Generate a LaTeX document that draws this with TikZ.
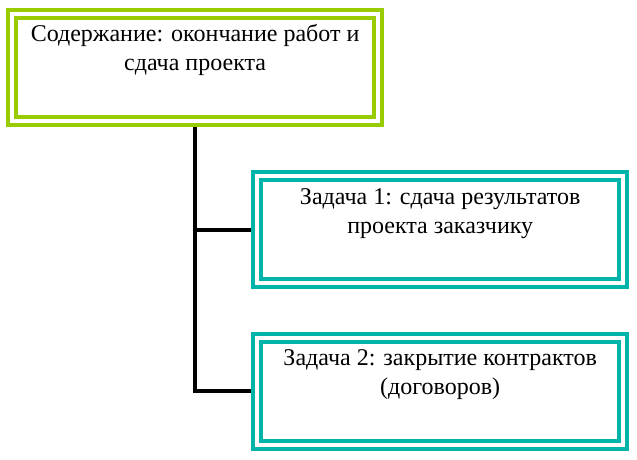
\documentclass[tikz,border=0pt]{standalone}
\usepackage{fontspec}
\setmainfont{Liberation Serif}
\definecolor{lgreen}{RGB}{153,204,0}
\definecolor{lteal}{RGB}{0,180,170}
\tikzset{
  dbox/.style={rectangle, draw=#1, double=white, line width=4pt, double distance=4pt,
    minimum width=366pt, minimum height=107pt, inner sep=0pt, outer sep=6pt},
  lbl/.style={align=center, inner sep=0pt, anchor=base,
    font=\fontsize{24}{28.5}\selectfont},
  conn/.style={draw=black, line width=4.5pt, line join=miter}
}
\begin{document}
\begin{tikzpicture}[x=1pt,y=-1pt]
\useasboundingbox (0,0) rectangle (637,459);
\node[dbox=lgreen] (top) at (195.1,67.2) {};
\node[dbox=lteal] (t1) at (440.2,229.8) {};
\node[dbox=lteal] (t2) at (440.2,391.2) {};
\node[lbl] (toptext) at ([yshift=-62.7pt]top.north) {Содержание: окончание работ и\\сдача проекта};
\node[lbl] (t1text) at ([yshift=-62.7pt]t1.north) {Задача 1: сдача результатов\\проекта заказчику};
\node[lbl] (t2text) at ([yshift=-62.7pt]t2.north) {Задача 2: закрытие контрактов\\(договоров)};
\draw[conn] (top.south) -- (top.south |- t2.west) -- (t2.west);
\draw[conn] (top.south |- t1.west) -- (t1.west);
\end{tikzpicture}
\end{document}
